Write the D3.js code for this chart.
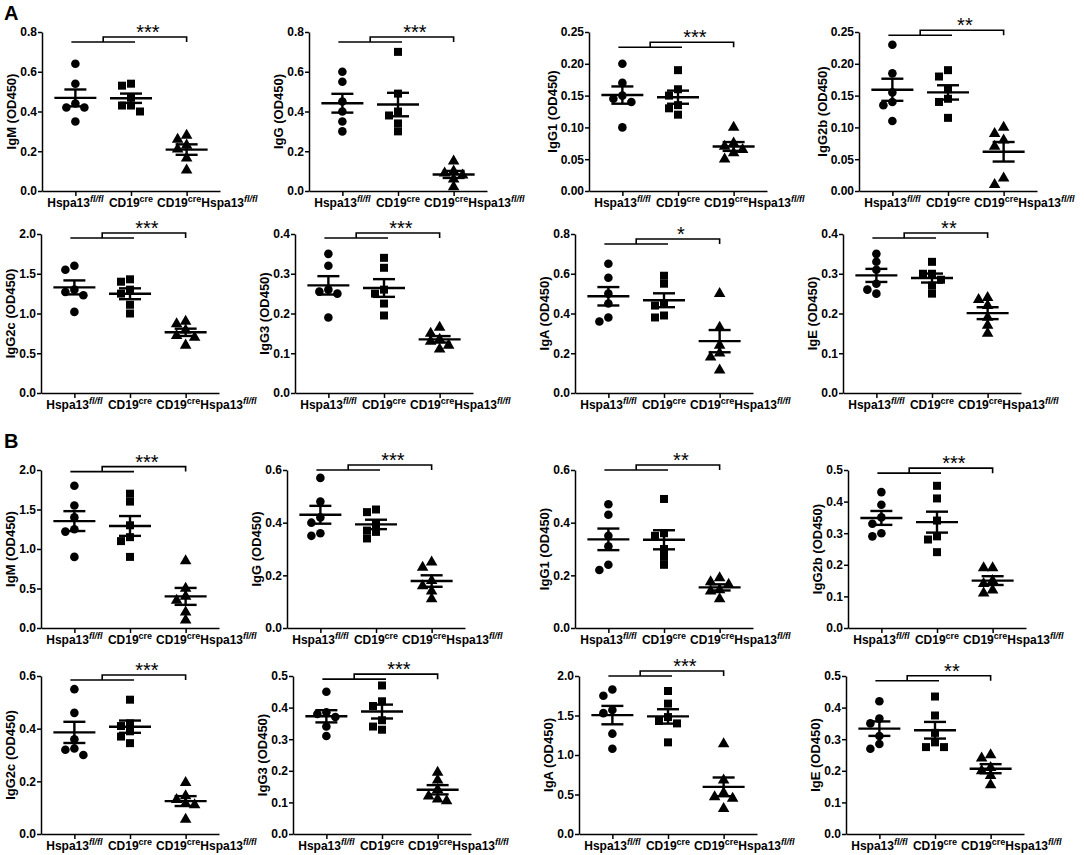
<!DOCTYPE html>
<html>
<head>
<meta charset="utf-8">
<script src="https://cdn.jsdelivr.net/npm/d3@7"></script>
<style>
  body { margin: 0; background: #fff; }
  svg { display: block; font-family: "Liberation Sans", Arial, sans-serif; }
  .axis path, .axis line { stroke: #000; stroke-width: 1.5px; }
  .axis text { font-size: 12px; font-weight: bold; fill: #000; }
</style>
</head>
<body>
<svg id="chart"></svg>
<script>
// x categories: pieces of each label, [text, isSuperscript]
const groupLabels = [
    [["Hspa13", false], ["fl/fl", true]],
    [["CD19", false], ["cre", true]],
    [["CD19", false], ["cre", true], ["Hspa13", false], ["fl/fl", true]]
];
const isotypes = ["IgM", "IgG", "IgG1", "IgG2b", "IgG2c", "IgG3", "IgA", "IgE"];

// OD450 per mouse, groups: Hspa13 fl/fl, CD19 cre, CD19 cre Hspa13 fl/fl
const A_IgM   = [[0.64, 0.54, 0.44, 0.42, 0.42, 0.35], [0.54, 0.53, 0.47, 0.43, 0.43, 0.40], [0.28, 0.26, 0.23, 0.21, 0.165, 0.105]];
const A_IgG   = [[0.60, 0.55, 0.45, 0.40, 0.35, 0.30], [0.70, 0.49, 0.40, 0.38, 0.34, 0.30], [0.15, 0.10, 0.09, 0.08, 0.06, 0.02]];
const A_IgG1  = [[0.20, 0.17, 0.15, 0.145, 0.14, 0.10], [0.19, 0.16, 0.15, 0.135, 0.13, 0.12], [0.10, 0.075, 0.07, 0.065, 0.06, 0.05]];
const A_IgG2b = [[0.23, 0.185, 0.155, 0.14, 0.135, 0.11], [0.19, 0.18, 0.16, 0.145, 0.14, 0.115], [0.10, 0.09, 0.08, 0.07, 0.02, 0.01]];
const A_IgG2c = [[1.60, 1.55, 1.30, 1.27, 1.23, 1.02], [1.43, 1.40, 1.30, 1.25, 1.11, 1.00], [0.90, 0.87, 0.79, 0.72, 0.70, 0.60]];
const A_IgG3  = [[0.35, 0.32, 0.26, 0.255, 0.25, 0.19], [0.34, 0.315, 0.26, 0.25, 0.225, 0.195], [0.165, 0.15, 0.135, 0.13, 0.12, 0.11]];
const A_IgA   = [[0.65, 0.58, 0.50, 0.45, 0.38, 0.36], [0.59, 0.55, 0.45, 0.44, 0.39, 0.38], [0.50, 0.33, 0.24, 0.20, 0.18, 0.115]];
const A_IgE   = [[0.35, 0.33, 0.31, 0.275, 0.26, 0.25], [0.33, 0.30, 0.30, 0.285, 0.27, 0.25], [0.24, 0.235, 0.22, 0.19, 0.17, 0.15]];

const B_IgM   = [[1.80, 1.55, 1.40, 1.25, 1.22, 0.90], [1.70, 1.60, 1.30, 1.15, 1.10, 0.90], [0.85, 0.50, 0.40, 0.35, 0.20, 0.10]];
const B_IgG   = [[0.57, 0.48, 0.42, 0.40, 0.36, 0.35], [0.45, 0.44, 0.395, 0.37, 0.365, 0.34], [0.25, 0.23, 0.18, 0.16, 0.14, 0.11]];
const B_IgG1  = [[0.47, 0.43, 0.35, 0.31, 0.24, 0.22], [0.49, 0.36, 0.35, 0.30, 0.27, 0.24], [0.19, 0.175, 0.165, 0.145, 0.14, 0.11]];
const B_IgG2b = [[0.43, 0.39, 0.35, 0.33, 0.30, 0.29], [0.45, 0.41, 0.34, 0.29, 0.28, 0.24], [0.19, 0.19, 0.15, 0.14, 0.12, 0.11]];
const B_IgG2c = [[0.55, 0.46, 0.36, 0.325, 0.32, 0.30], [0.51, 0.42, 0.41, 0.39, 0.37, 0.345], [0.195, 0.145, 0.13, 0.115, 0.11, 0.055]];
const B_IgG3  = [[0.45, 0.385, 0.38, 0.37, 0.34, 0.31], [0.47, 0.42, 0.405, 0.36, 0.34, 0.33], [0.195, 0.17, 0.14, 0.12, 0.11, 0.105]];
const B_IgA   = [[1.83, 1.75, 1.57, 1.53, 1.27, 1.08], [1.81, 1.65, 1.48, 1.43, 1.40, 1.16], [1.14, 0.68, 0.52, 0.47, 0.45, 0.32]];
const B_IgE   = [[0.42, 0.365, 0.35, 0.31, 0.285, 0.27], [0.435, 0.375, 0.32, 0.29, 0.275, 0.275], [0.25, 0.24, 0.21, 0.20, 0.185, 0.155]];

const valuesA = [A_IgM, A_IgG, A_IgG1, A_IgG2b, A_IgG2c, A_IgG3, A_IgA, A_IgE];
const valuesB = [B_IgM, B_IgG, B_IgG1, B_IgG2b, B_IgG2c, B_IgG3, B_IgA, B_IgE];

// y tick labels of each panel
const ticksA = [
    [0, 0.2, 0.4, 0.6, 0.8], [0, 0.2, 0.4, 0.6, 0.8],
    [0, 0.05, 0.10, 0.15, 0.20, 0.25], [0, 0.05, 0.10, 0.15, 0.20, 0.25],
    [0, 0.5, 1.0, 1.5, 2.0], [0, 0.1, 0.2, 0.3, 0.4],
    [0, 0.2, 0.4, 0.6, 0.8], [0, 0.1, 0.2, 0.3, 0.4]
];
const ticksB = [
    [0, 0.5, 1.0, 1.5, 2.0], [0, 0.2, 0.4, 0.6],
    [0, 0.2, 0.4, 0.6], [0, 0.1, 0.2, 0.3, 0.4, 0.5],
    [0, 0.2, 0.4, 0.6], [0, 0.1, 0.2, 0.3, 0.4, 0.5],
    [0, 0.5, 1.0, 1.5, 2.0], [0, 0.1, 0.2, 0.3, 0.4, 0.5]
];

// significance of (Hspa13 fl/fl + CD19 cre) vs CD19 cre Hspa13 fl/fl, and bracket level (OD450)
const starsA = ["***", "***", "***", "**", "***", "***", "*", "**"];
const starsB = ["***", "***", "**", "***", "***", "***", "***", "**"];
const bracketA = [0.75, 0.75, 0.226, 0.245, 1.95, 0.39, 0.75, 0.39];
const bracketB = [1.98, 0.60, 0.60, 0.49, 0.585, 0.49, 2.0, 0.485];

// page layout (pixels)
const rowTop = [32, 234, 470, 676];
const rowBottom = [191, 393, 628, 834];
const colLeft = [[42, 309, 589, 859], [41, 295, 575, 843], [41, 287, 575, 848], [41, 293, 579, 846]];
const symbols = [d3.symbolCircle, d3.symbolSquare, d3.symbolTriangle];
const symbolSizes = [58, 64, 58];


class DotPlot {

    constructor(_config, _data) {
        this.config = {
            parentElement: _config.parentElement,
            left: _config.left,
            top: _config.top,
            bottom: _config.bottom,
            width: 178,
            ticks: _config.ticks,
            yLabel: _config.yLabel,
            stars: _config.stars,
            bracket: _config.bracket
        }
        this.data = _data;
        this.initVis();
    }

    initVis() {
        let vis = this;

        vis.chart = vis.config.parentElement.append('g')
            .attr('transform', `translate(${vis.config.left},0)`);

        let ticks = vis.config.ticks;
        vis.yScale = d3.scaleLinear()
            .domain([0, ticks[ticks.length - 1]])
            .range([vis.config.bottom, vis.config.top]);

        vis.xScale = d3.scalePoint()
            .domain([0, 1, 2])
            .range([0, vis.config.width])
            .padding(0.6);

        let step = ticks[1] - ticks[0];
        vis.yAxis = d3.axisLeft(vis.yScale)
            .tickValues(ticks)
            .tickFormat(d3.format(step < 0.099 ? '.2f' : '.1f'))
            .tickSize(4)
            .tickSizeOuter(0)
            .tickPadding(1);

        vis.xAxis = d3.axisBottom(vis.xScale)
            .tickSize(5)
            .tickSizeOuter(0)
            .tickFormat('');

        vis.yAxisG = vis.chart.append('g').attr('class', 'axis y-axis');
        vis.xAxisG = vis.chart.append('g')
            .attr('class', 'axis x-axis')
            .attr('transform', `translate(0,${vis.config.bottom})`);

        vis.updateVis();
    }

    updateVis() {
        let vis = this;

        vis.groups = vis.data.map((vals, i) => {
            let mean = d3.mean(vals);
            let sem = d3.deviation(vals) / Math.sqrt(vals.length);
            return {i, vals, mean, sem, offsets: vis.swarm(vals)};
        });

        vis.renderVis();
    }

    // spread points with close values sideways, like a column scatter plot
    swarm(vals) {
        let vis = this;
        let order = d3.range(vals.length).sort((a, b) => vals[b] - vals[a]);
        let placed = [];
        let offsets = [];
        order.forEach(i => {
            let py = vis.yScale(vals[i]);
            for (let k = 0; ; k++) {
                let dx = k === 0 ? 0 : (k % 2 ? -1 : 1) * Math.ceil(k / 2) * 9;
                if (!placed.some(p => Math.abs(p.dx - dx) < 8 && Math.abs(p.py - py) < 7.5)) {
                    offsets[i] = dx;
                    placed.push({dx, py});
                    break;
                }
            }
        });
        return offsets;
    }

    renderVis() {
        let vis = this;
        let x = vis.xScale, y = vis.yScale;

        vis.yAxisG.call(vis.yAxis);
        vis.xAxisG.call(vis.xAxis);

        // y title, placed left of the widest tick label
        let labelW = d3.max(vis.yAxisG.selectAll('.tick text').nodes(), n => n.getComputedTextLength());
        let midY = (vis.config.top + vis.config.bottom) / 2;
        vis.chart.append('text')
            .attr('transform', `translate(${-labelW - 9},${midY}) rotate(-90)`)
            .attr('text-anchor', 'middle')
            .style('font-size', '13px')
            .style('font-weight', 'bold')
            .text(vis.config.yLabel);

        // x labels with superscripts, pushed right where they would overlap
        let prevEnd = -Infinity;
        groupLabels.forEach((parts, i) => {
            let t = vis.chart.append('text')
                .attr('y', vis.config.bottom + 16)
                .style('font-size', '12px')
                .style('font-weight', 'bold');
            parts.forEach(([s, sup], j) => {
                let prevSup = j > 0 && parts[j - 1][1];
                t.append('tspan')
                    .attr('dy', sup ? -5 : (prevSup ? 5 : 0))
                    .style('font-size', sup ? '9px' : '12px')
                    .style('font-style', sup && s === 'fl/fl' ? 'italic' : 'normal')
                    .text(s);
            });
            let w = t.node().getComputedTextLength();
            let start = Math.max(x(i) - w / 2, prevEnd + 4);
            t.attr('x', start);
            prevEnd = start + w;
        });

        // points
        vis.groups.forEach(g => {
            vis.chart.append('g')
                .selectAll('path')
                .data(g.vals)
                .join('path')
                .attr('d', d3.symbol().type(symbols[g.i]).size(symbolSizes[g.i]))
                .attr('transform', (d, k) => `translate(${x(g.i) + g.offsets[k]},${y(d)})`)
                .attr('fill', '#000');
        });

        // mean and SEM
        let stats = vis.chart.append('g')
            .attr('stroke', '#000')
            .attr('stroke-width', 2.4)
            .attr('fill', 'none');
        vis.groups.forEach(g => {
            let cx = x(g.i);
            stats.append('line')
                .attr('x1', cx - 21).attr('x2', cx + 21)
                .attr('y1', y(g.mean)).attr('y2', y(g.mean));
            stats.append('line')
                .attr('x1', cx).attr('x2', cx)
                .attr('y1', y(g.mean - g.sem)).attr('y2', y(g.mean + g.sem));
            [g.mean - g.sem, g.mean + g.sem].forEach(v => {
                stats.append('line')
                    .attr('x1', cx - 11).attr('x2', cx + 11)
                    .attr('y1', y(v)).attr('y2', y(v));
            });
        });

        // significance bracket
        let yl = y(vis.config.bracket), yu = yl - 5;
        let x1 = x(0) - 4, x2 = x(1) + 4, xm = (x1 + x2) / 2, x3 = x(2);
        let br = vis.chart.append('g')
            .attr('stroke', '#000')
            .attr('stroke-width', 1.6)
            .attr('fill', 'none');
        br.append('line')
            .attr('x1', x1).attr('x2', x2)
            .attr('y1', yl).attr('y2', yl);
        br.append('path')
            .attr('d', `M${xm},${yl}V${yu}H${x3}V${yl}`);
        vis.chart.append('text')
            .attr('x', (xm + x3) / 2 + 3)
            .attr('y', yu + 2)
            .attr('text-anchor', 'middle')
            .style('font-size', '20px')
            .text(vis.config.stars);
    }
}


const svg = d3.select('#chart')
    .attr('width', 1084)
    .attr('height', 855);

svg.append('rect').attr('width', 1084).attr('height', 855).attr('fill', '#fff');

[[valuesA, ticksA, starsA, bracketA], [valuesB, ticksB, starsB, bracketB]].forEach(([vals, ticks, stars, bracket], s) => {
    vals.forEach((d, p) => {
        let row = s * 2 + Math.floor(p / 4);
        new DotPlot({
            parentElement: svg,
            left: colLeft[row][p % 4],
            top: rowTop[row],
            bottom: rowBottom[row],
            ticks: ticks[p],
            yLabel: `${isotypes[p]} (OD450)`,
            stars: stars[p],
            bracket: bracket[p]
        }, d);
    });
});

// panel letters
svg.selectAll('.panel-letter')
    .data(['A', 'B'])
    .join('text')
    .attr('class', 'panel-letter')
    .attr('x', 4)
    .attr('y', (d, i) => i ? 448 : 20)
    .style('font-size', '20px')
    .style('font-weight', 'bold')
    .text(d => d);
</script>
</body>
</html>
